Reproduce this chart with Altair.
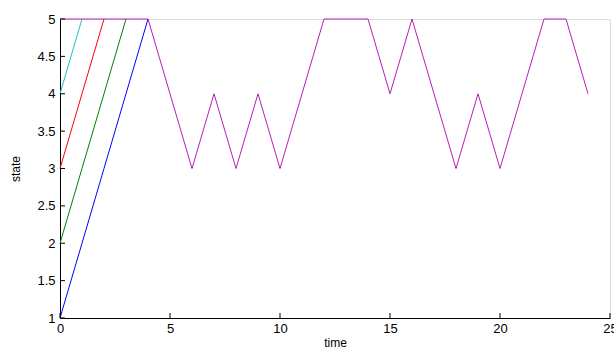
import altair as alt
import pandas as pd

magenta_t = list(range(25))
magenta = [5, 5, 5, 5, 5, 4, 3, 4, 3, 4, 3, 4, 5, 5, 5, 4, 5, 4, 3, 4, 3, 4, 5, 5, 4]
blue_t = [0, 1, 2, 3, 4]
blue = [1, 2, 3, 4, 5]
green_t = [0, 1, 2, 3]
green = [2, 3, 4, 5]
red_t = [0, 1, 2]
red = [3, 4, 5]
cyan_t = [0, 1]
cyan = [4, 5]
series_names = ["s1", "s2", "s3", "s4", "s5"]
series_colors = ["#0000ff", "#008000", "#ff0000", "#20c0c0", "#b520b5"]
x_ticks = [0, 5, 10, 15, 20, 25]
y_ticks = [1, 1.5, 2, 2.5, 3, 3.5, 4, 4.5, 5]

rows = []
for name, ts, vals in zip(series_names,
                          [blue_t, green_t, red_t, cyan_t, magenta_t],
                          [blue, green, red, cyan, magenta]):
    for t, v in zip(ts, vals):
        rows.append({"series": name, "time": t, "state": v})
df = pd.DataFrame(rows)

W, H = 550, 299
xs = alt.Scale(domain=[0, 25], nice=False)
ys = alt.Scale(domain=[1, 5], nice=False)

common = dict(ticks=False, labelFontSize=13, titleFontSize=12,
              labelFont="Liberation Sans", titleFont="Liberation Sans",
              titleFontWeight="normal", labelColor="black", titleColor="black",
              domainColor="black", grid=False, labelFlush=False, labelOverlap=False,
              labelExpr="'' + datum.value")
xaxis = alt.Axis(values=x_ticks, labelPadding=4, titlePadding=2, **common)
yaxis = alt.Axis(values=y_ticks, labelPadding=5, titlePadding=14, **common)

lines = alt.Chart(df).mark_line(strokeWidth=1, clip=False).encode(
    x=alt.X("time:Q", scale=xs, title="time", axis=xaxis),
    y=alt.Y("state:Q", scale=ys, title="state", axis=yaxis),
    color=alt.Color("series:N", scale=alt.Scale(domain=series_names, range=series_colors), legend=None),
    detail="series:N",
    order="time:Q",
)

xt = alt.Chart(pd.DataFrame({"t": x_ticks})).mark_rule(color="black", strokeWidth=1).encode(
    x=alt.X("t:Q", scale=xs, title="time", axis=xaxis), y=alt.value(H), y2=alt.value(H - 5))
yt = alt.Chart(pd.DataFrame({"v": y_ticks})).mark_rule(color="black", strokeWidth=1).encode(
    y=alt.Y("v:Q", scale=ys, title="state", axis=yaxis), x=alt.value(0), x2=alt.value(5))

chart = alt.layer(lines, xt, yt).properties(
    width=W, height=H,
    autosize=alt.AutoSizeParams(type="none"),
    padding={"left": 60, "top": 19, "right": 4, "bottom": 40},
).configure_view(stroke="transparent", strokeWidth=0).configure(background="white")

chart.save("out.html", embed_options={"renderer": "svg", "actions": False})
